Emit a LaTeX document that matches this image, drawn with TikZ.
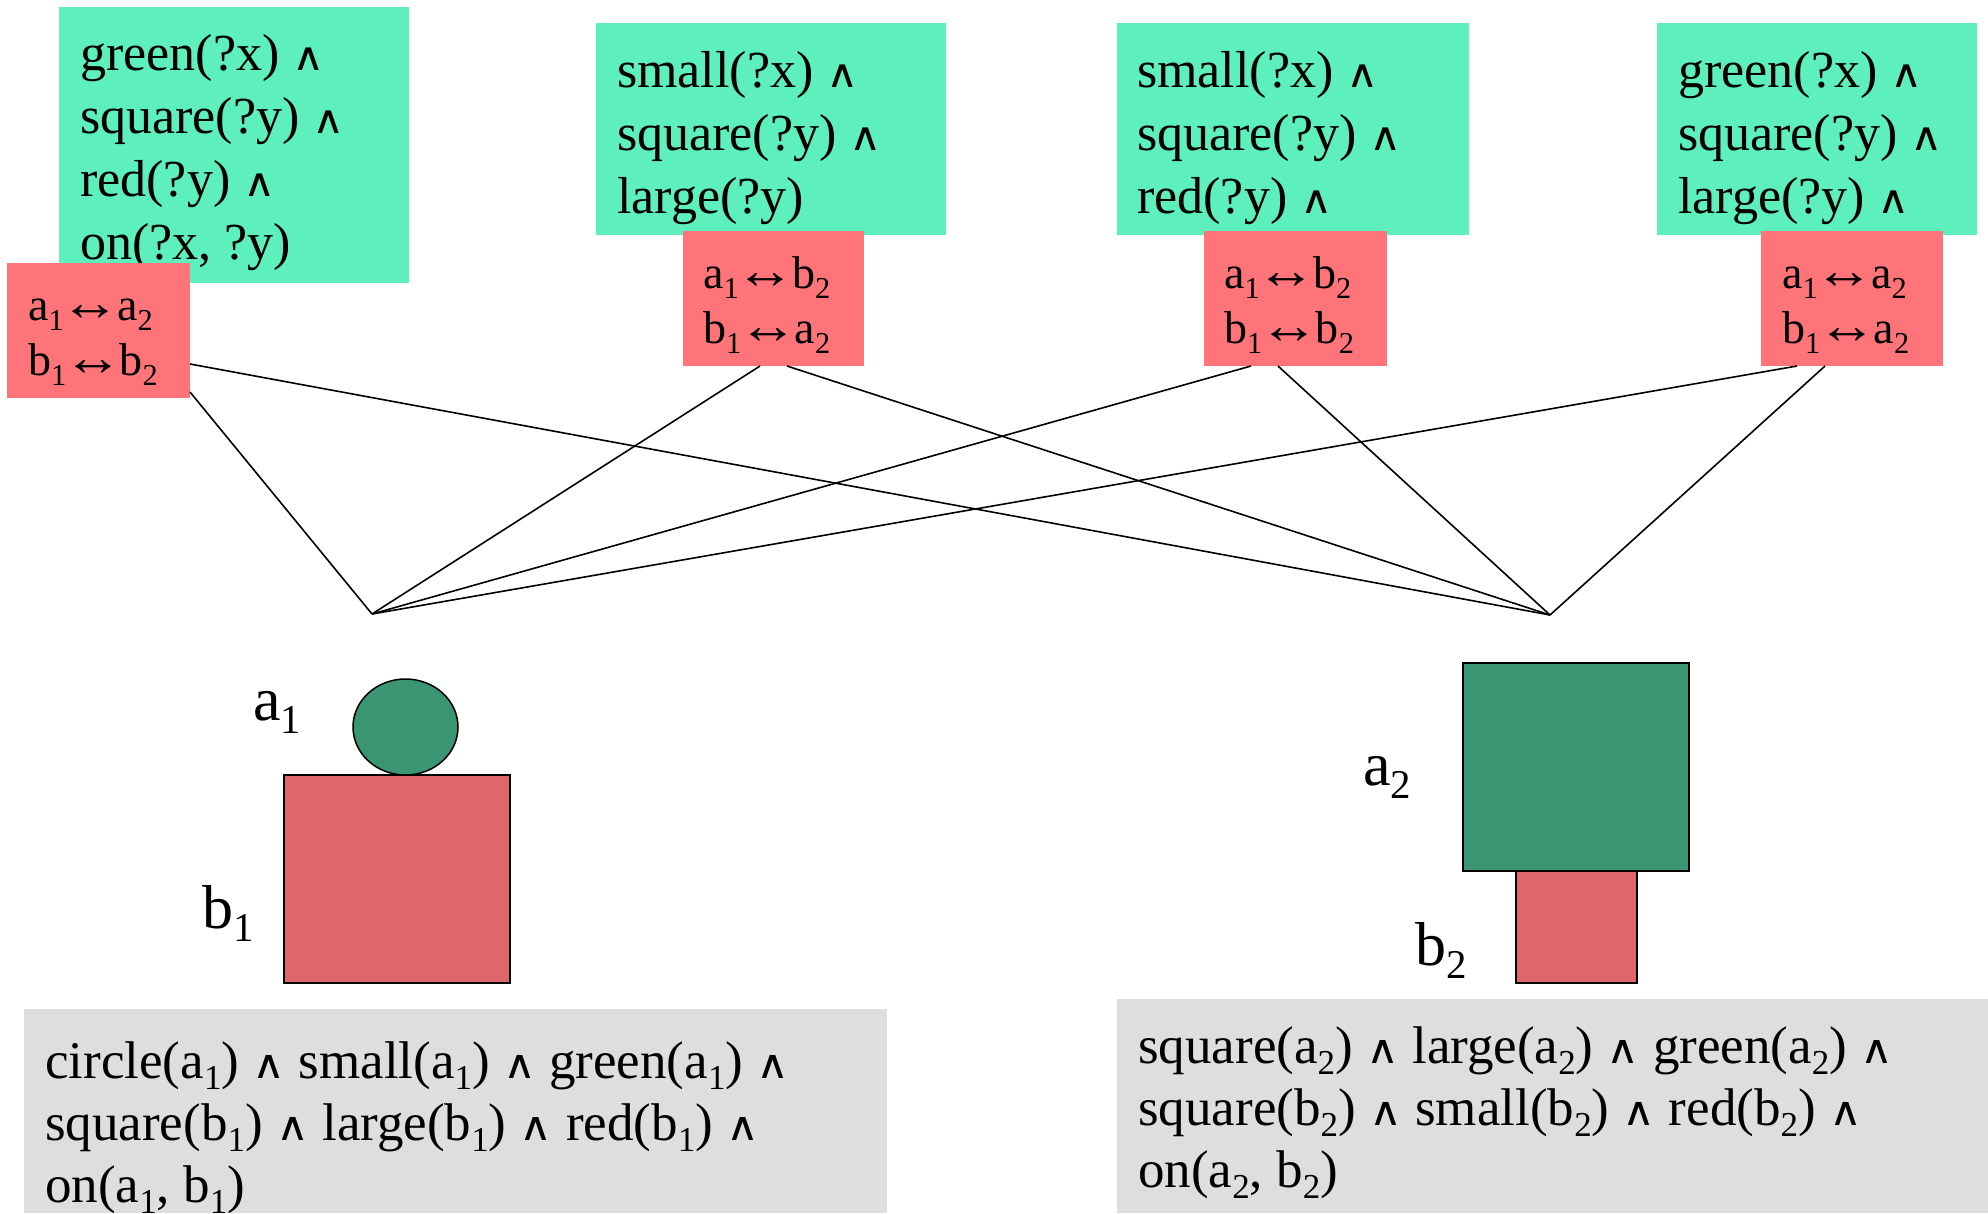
\documentclass[tikz,border=0pt]{standalone}
\usepackage{fontspec}
\usepackage{graphicx}
\setmainfont{Liberation Serif}
\newfontfamily\symfam{DejaVu Sans}
\usetikzlibrary{shapes.geometric}

\definecolor{ruleGreen}{HTML}{5DF0BE}
\definecolor{mapRed}{HTML}{FF7479}
\definecolor{factGray}{HTML}{DEDEDE}
\definecolor{blockGreen}{HTML}{3A9573}
\definecolor{blockRed}{HTML}{E0666B}

% lowered, reduced index
\newcommand\sbs[1]{\raisebox{-0.22em}{\scalebox{0.66}{#1}}}
% conjunction wedge and correspondence arrow
\newcommand\conj{{\symfam\scalebox{0.85}[0.75]{∧}}}
\newcommand\bij{\kern-0.07em\scalebox{1.3}[1.15]{↔}\kern-0.07em}
% left-aligned rows whose reference point is the first baseline
\newcommand\stackrows[1]{\vtop{\halign{##\hfil\cr#1\crcr}}}

\begin{document}
\begin{tikzpicture}[x=1pt,y=-1pt,
  box/.style={anchor=north west,inner sep=0pt,outer sep=0pt,draw=none},
  rulebox/.style={box,fill=ruleGreen},
  mapbox/.style={box,fill=mapRed},
  factbox/.style={box,fill=factGray},
  bigtxt/.style={anchor=base west,inner sep=0pt,font=\fontsize{52}{63}\selectfont},
  facttxt/.style={anchor=base west,inner sep=0pt,font=\fontsize{53}{62}\selectfont},
  maptxt/.style={anchor=base west,inner sep=0pt,font=\fontsize{46}{55}\selectfont},
  objlabel/.style={anchor=base west,inner sep=0pt,font=\fontsize{62}{70}\selectfont},
  link/.style={draw=black,line width=1.6pt},
  block/.style={draw=black,line width=1.5pt,inner sep=0pt,outer sep=0pt}]
\useasboundingbox (0,0) rectangle (1988,1213);

% rule patterns
\node[rulebox,minimum width=350pt,minimum height=276pt] (g1) at (59,7) {};
\node[bigtxt] (g1t) at (80,70) {\stackrows{green(?x) \conj\cr square(?y) \conj\cr red(?y) \conj\cr on(?x, ?y)}};
\node[rulebox,minimum width=350pt,minimum height=212pt] (g2) at (596,23) {};
\node[bigtxt] (g2t) at (617,87) {\stackrows{small(?x) \conj\cr square(?y) \conj\cr large(?y)}};
\node[rulebox,minimum width=352pt,minimum height=212pt] (g3) at (1117,23) {};
\node[bigtxt] (g3t) at (1137,87) {\stackrows{small(?x) \conj\cr square(?y) \conj\cr red(?y) \conj}};
\node[rulebox,minimum width=320pt,minimum height=212pt] (g4) at (1657,23) {};
\node[bigtxt] (g4t) at (1678,87) {\stackrows{green(?x) \conj\cr square(?y) \conj\cr large(?y) \conj}};

% correspondences
\node[mapbox,minimum width=183pt,minimum height=135pt] (r1) at (7,263) {};
\node[maptxt] (r1t) at (28,320) {\stackrows{a\sbs{1}\bij a\sbs{2}\cr b\sbs{1}\bij b\sbs{2}}};
\node[mapbox,minimum width=181pt,minimum height=135pt] (r2) at (683,231) {};
\node[maptxt] (r2t) at (703,288) {\stackrows{a\sbs{1}\bij b\sbs{2}\cr b\sbs{1}\bij a\sbs{2}}};
\node[mapbox,minimum width=183pt,minimum height=135pt] (r3) at (1204,231) {};
\node[maptxt] (r3t) at (1224,288) {\stackrows{a\sbs{1}\bij b\sbs{2}\cr b\sbs{1}\bij b\sbs{2}}};
\node[mapbox,minimum width=182pt,minimum height=135pt] (r4) at (1761,231) {};
\node[maptxt] (r4t) at (1782,288) {\stackrows{a\sbs{1}\bij a\sbs{2}\cr b\sbs{1}\bij a\sbs{2}}};

% connectors to the two scenes
\coordinate (L) at (372,614);
\coordinate (R) at (1550,615);
\draw[link] ([yshift=6pt]r1.south east) -- (L);
\draw[link] ([yshift=34pt]r1.south east) -- (R);
\draw[link] ([xshift=77pt]r2.south west) -- (L);
\draw[link] ([xshift=104pt]r2.south west) -- (R);
\draw[link] ([xshift=47pt]r3.south west) -- (L);
\draw[link] ([xshift=74pt]r3.south west) -- (R);
\draw[link] ([xshift=36pt]r4.south west) -- (L);
\draw[link] ([xshift=64pt]r4.south west) -- (R);

% scene 1
\node[block,fill=blockRed,anchor=north west,minimum width=226pt,minimum height=208pt] (b1) at (284,775) {};
\node[block,fill=blockGreen,ellipse,minimum width=105pt,minimum height=96pt] (a1) at (405.5,727) {};
\node[objlabel] (a1l) at (253,720) {a\sbs{1}};
\node[objlabel] (b1l) at (202,928) {b\sbs{1}};

% scene 2
\node[block,fill=blockRed,anchor=north west,minimum width=121pt,minimum height=112pt] (b2) at (1516,871) {};
\node[block,fill=blockGreen,anchor=north west,minimum width=226pt,minimum height=208pt] (a2) at (1463,663) {};
\node[objlabel] (a2l) at (1363,785) {a\sbs{2}};
\node[objlabel] (b2l) at (1415,965) {b\sbs{2}};

% scene descriptions
\node[factbox,minimum width=863pt,minimum height=204pt] (f1) at (24,1009) {};
\node[facttxt] (f1t) at (45,1078) {\stackrows{circle(a\sbs{1}) \conj{} small(a\sbs{1}) \conj{} green(a\sbs{1}) \conj\cr square(b\sbs{1}) \conj{} large(b\sbs{1}) \conj{} red(b\sbs{1}) \conj\cr on(a\sbs{1}, b\sbs{1})}};
\node[factbox,minimum width=871pt,minimum height=214pt] (f2) at (1117,999) {};
\node[facttxt] (f2t) at (1138,1063) {\stackrows{square(a\sbs{2}) \conj{} large(a\sbs{2}) \conj{} green(a\sbs{2}) \conj\cr square(b\sbs{2}) \conj{} small(b\sbs{2}) \conj{} red(b\sbs{2}) \conj\cr on(a\sbs{2}, b\sbs{2})}};
\end{tikzpicture}
\end{document}
